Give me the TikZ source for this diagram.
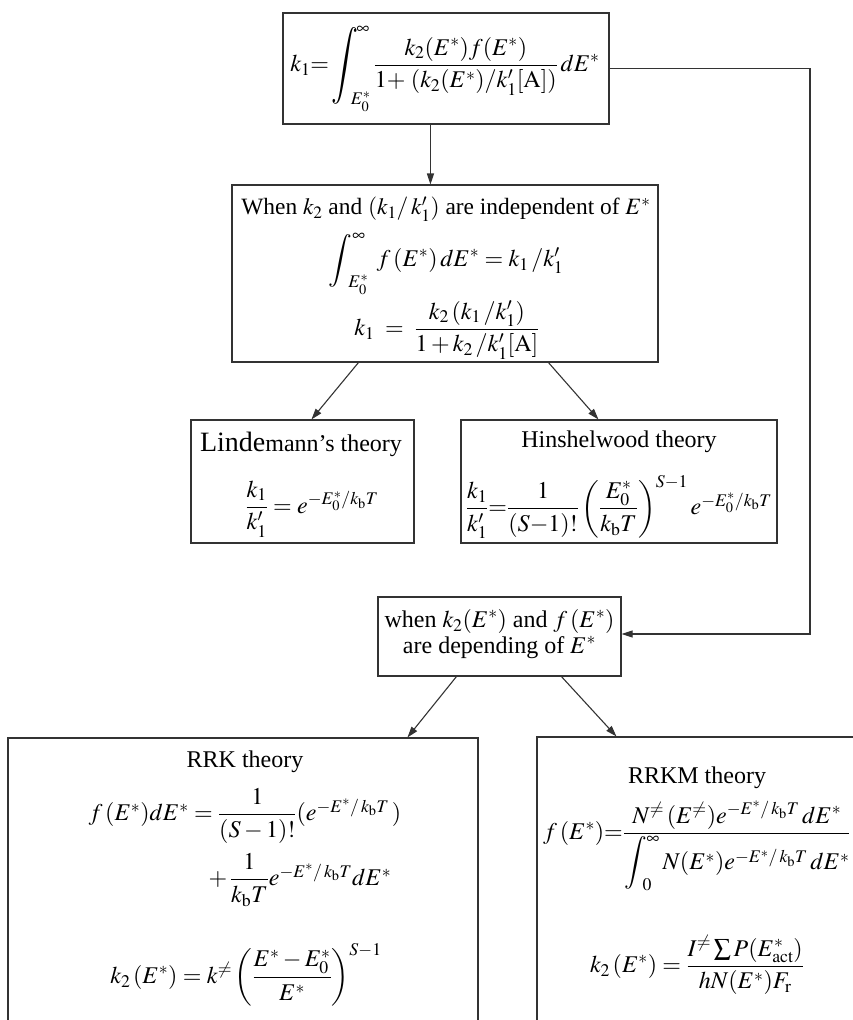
\documentclass[tikz,border=0pt]{standalone}
\usepackage{amsmath}
\usepackage{graphicx}
\usepackage{mathptmx}
\usepackage[no-math]{fontspec}
\setmainfont{Liberation Serif}
\usetikzlibrary{arrows.meta,calc}
% a tall integral sign: #1 = x scale, #2 = y scale
\newcommand{\tallint}[2]{\mathop{\vcenter{\hbox{\scalebox{#1}[#2]{$\displaystyle\int$}}}}\nolimits}
\begin{document}
\begin{tikzpicture}[x=1pt,y=-1pt,
  every node/.style={font=\fontsize{24}{29}\selectfont},
  box/.style={draw=black!80, line width=1.1pt, inner sep=0pt},
  lbl/.style={inner sep=0pt, align=center},
  conn/.style={draw=black!80, line width=1.1pt, -{Triangle[length=11pt,width=7pt]}}]
\useasboundingbox (0,0) rectangle (853,1020);
\clip (0,0) rectangle (853,1020);
% boxes
\node[box, minimum width=326pt, minimum height=111pt] (top) at (446,68.5) {};
\node[box, minimum width=426pt, minimum height=177pt] (mid) at (445,273.5) {};
\node[box, minimum width=223pt, minimum height=123pt] (lind) at (302.5,481.5) {};
\node[box, minimum width=316pt, minimum height=123pt] (hins) at (619,481.5) {};
\node[box, minimum width=243pt, minimum height=79pt] (dep) at (499.5,636.5) {};
\node[box, minimum width=470pt, minimum height=302pt] (rrk) at (243,889) {};
\node[box, minimum width=333pt, minimum height=303pt] (rrkm) at (703.5,888.5) {};
% texts
\node[lbl] (topT) at (445,69)
  {$k_1 {=} \tallint{1.25}{1.6}_{\!\!\!\!E_0^*}^{\!\infty}\dfrac{k_2(E^*)f(E^*)}{1{+}\;(k_2(E^*)/k_1'[\mathrm{A}])}\,dE^*$};
\node[lbl, font=\fontsize{23.4}{28}\selectfont] (midT) at (446,209) {When $k_2$ and $(k_1/\,k_1')$ are independent of $E^*$};
\node[lbl] (midA) at (446,264) {$\tallint{1.1}{1.1}_{\!\!E_0^*}^{\infty}\; f\,(E^*)\,dE^* = k_1\,/k_1'$};
\node[lbl] (midB) at (447,330) {$k_1\;=\;\dfrac{k_2\,(k_1\,/k_1')}{1+k_2\,/k_1'[\mathrm{A}]}$};
\node[lbl] (lindT) at (301,444) {{\fontsize{28}{30}\selectfont Linde}mann's theory};
\node[lbl] (lindA) at (312,509) {$\dfrac{k_1}{k_1'} = e^{-E_0^*/k_\mathrm{b}T}$};
\node[lbl] (hinsT) at (619,442) {Hinshelwood theory};
\node[lbl] (hinsA) at (619,507)
  {$\dfrac{k_1}{k_1'}{=}\dfrac{1}{(S{-}1)!}\left(\dfrac{E_0^*}{k_\mathrm{b}T}\right)^{S-1}e^{-E_0^*/k_\mathrm{b}T}$};
\node[lbl] (depT) at (499.5,634) {when $k_2(E^*)$ and $f\,(E^*)$\\[-3pt] are depending of $E^*$};
\node[lbl] (rrkT) at (245,762) {RRK theory};
\node[lbl] (rrkA) at (245,816) {$f\,(E^*)dE^* = \dfrac{1}{(S-1)!}(e^{-E^*/\,k_\mathrm{b}T}\,)$};
\node[lbl] (rrkB) at (300,880) {$+\,\dfrac{1}{k_\mathrm{b}T}e^{-E^*/\,k_\mathrm{b}T}dE^*$};
\node[lbl] (rrkC) at (246,975) {$k_2\,(E^*) = k^{\neq}\left(\dfrac{E^*-E_0^*}{E^*}\right)^{S-1}$};
\node[lbl] (rrkmT) at (697,778) {RRKM theory};
\node[lbl] (rrkmA) at (697,846) {$f\,(E^*){=}\dfrac{N^{\neq}\,(E^{\neq})e^{-E^*/\,k_\mathrm{b}T}\,dE^*}{\tallint{1.05}{1.1}_{\!\!0}^{\infty}N(E^*)e^{-E^*/\,k_\mathrm{b}T}\,dE^*}$};
\node[lbl] (rrkmB) at (697,965) {$k_2\,(E^*) = \dfrac{I^{\neq}\sum P(E^*_\mathrm{act})}{hN(E^*)F_\mathrm{r}}$};
% connectors
\coordinate (rv) at (810,68.5);
\draw[conn] ($(top.south west)+(148,0)$) -- ($(mid.north west)+(199,0)$);
\draw[conn] (top.east) -- (rv) |- ($(dep.east)+(0,-2.5)$);
\draw[conn] ($(mid.south west)+(127,0)$) -- ($(lind.north west)+(121,0)$);
\draw[conn] ($(mid.south west)+(317,0)$) -- ($(hins.north west)+(138,0)$);
\draw[conn] ($(dep.south west)+(79,0)$) -- ($(rrk.north west)+(400,0)$);
\draw[conn] ($(dep.south west)+(184,0)$) -- ($(rrkm.north west)+(80,0)$);
\end{tikzpicture}
\end{document}
